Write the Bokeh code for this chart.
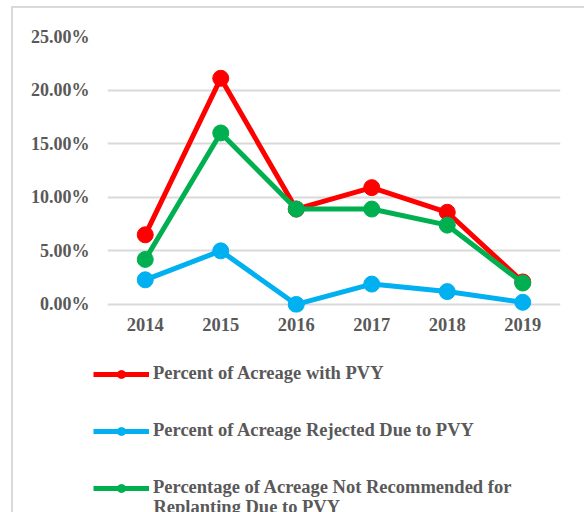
from bokeh.plotting import figure
from bokeh.layouts import column
from bokeh.models import FactorRange, Range1d, NumeralTickFormatter, Legend, LegendItem, FixedTicker, Label
from bokeh.embed import file_html
from bokeh.resources import INLINE

years = ["2014", "2015", "2016", "2017", "2018", "2019"]
pct_with_pvy = [0.065, 0.211, 0.089, 0.109, 0.086, 0.021]
pct_rejected = [0.023, 0.050, 0.000, 0.019, 0.012, 0.002]
pct_not_recommended = [0.042, 0.160, 0.089, 0.089, 0.074, 0.020]
y_ticks = [0.0, 0.05, 0.10, 0.15, 0.20, 0.25]

labels = [
    "Percent of Acreage with PVY",
    "Percent of Acreage Rejected Due to PVY",
    "Percentage of Acreage Not Recommended for",
]
label_continuation = "Replanting Due to PVY"
colors = ["#FF0000", "#00B0F0", "#00B050"]
series = [pct_with_pvy, pct_rejected, pct_not_recommended]

FONT = "Liberation Serif"
TXT = "#595959"

# main chart
p = figure(
    x_range=FactorRange(*years, range_padding=0),
    y_range=Range1d(-0.0075, 0.25),
    width=571, height=330,
    output_backend="svg", toolbar_location=None,
    min_border_left=94, min_border_right=24, min_border_top=28, min_border_bottom=26,
)
p.frame_align = False
p.outline_line_color = None
p.border_fill_color = "white"

for ys, c in zip(series, colors):
    p.line(years, ys, line_color=c, line_width=5)
    p.scatter(years, ys, size=16, fill_color=c, line_color=c)

p.xgrid.grid_line_color = None
p.ygrid.grid_line_color = "#d9d9d9"
p.ygrid.grid_line_width = 2

p.yaxis.ticker = FixedTicker(ticks=y_ticks)
p.yaxis.formatter = NumeralTickFormatter(format="0.00%")
for ax in (p.xaxis[0], p.yaxis[0]):
    ax.axis_line_color = None
    ax.major_tick_line_color = None
    ax.minor_tick_line_color = None
    ax.major_tick_out = 0
    ax.major_tick_in = 0
    ax.minor_tick_out = 0
    ax.major_label_text_font = FONT
    ax.major_label_text_font_style = "bold"
    ax.major_label_text_font_size = "18.5px"
    ax.major_label_text_color = TXT
p.yaxis.major_label_text_font_size = "18px"
p.yaxis.major_label_standoff = 18
p.xaxis.major_label_standoff = 5

# legend panel: the same series drawn outside the visible range; only legend entries show
q = figure(
    x_range=FactorRange(*years, range_padding=0),
    y_range=Range1d(5, 6),
    width=571, height=174,
    output_backend="svg", toolbar_location=None,
    min_border_left=80, min_border_right=0, min_border_top=25, min_border_bottom=0,
)
q.frame_align = False
q.outline_line_color = None
q.border_fill_color = "white"
q.xaxis.visible = False
q.yaxis.visible = False
q.grid.visible = False

items = []
for ys, c, lab in zip(series, colors, labels):
    r1 = q.line(years, ys, line_color=c, line_width=5)
    r2 = q.scatter(years, ys, size=16, fill_color=c, line_color=c)
    items.append(LegendItem(label=lab, renderers=[r1, r2]))

legend = Legend(items=items, location="top_left", orientation="vertical")
legend.border_line_color = None
legend.background_fill_color = None
legend.background_fill_alpha = 0
legend.label_text_font = FONT
legend.label_text_font_style = "bold"
legend.label_text_font_size = "18.5px"
legend.label_text_color = TXT
legend.glyph_width = 56
legend.glyph_height = 20
legend.label_height = 20
legend.label_standoff = 4
legend.spacing = 36
legend.padding = 0
legend.margin = 0
q.add_layout(legend, "center")

cont = Label(x=60, y=5.5, x_units="screen", y_units="screen", text=label_continuation,
             text_font=FONT, text_font_style="bold", text_font_size="18.5px",
             text_color=TXT, text_baseline="middle", text_align="left")
q.add_layout(cont)

layout = column(p, q, spacing=0, styles={
    "border-left": "2px solid #d9d9d9",
    "border-top": "2px solid #d9d9d9",
    "margin-left": "11px",
    "margin-top": "6px",
})

open("out.html", "w").write(file_html(layout, INLINE))
